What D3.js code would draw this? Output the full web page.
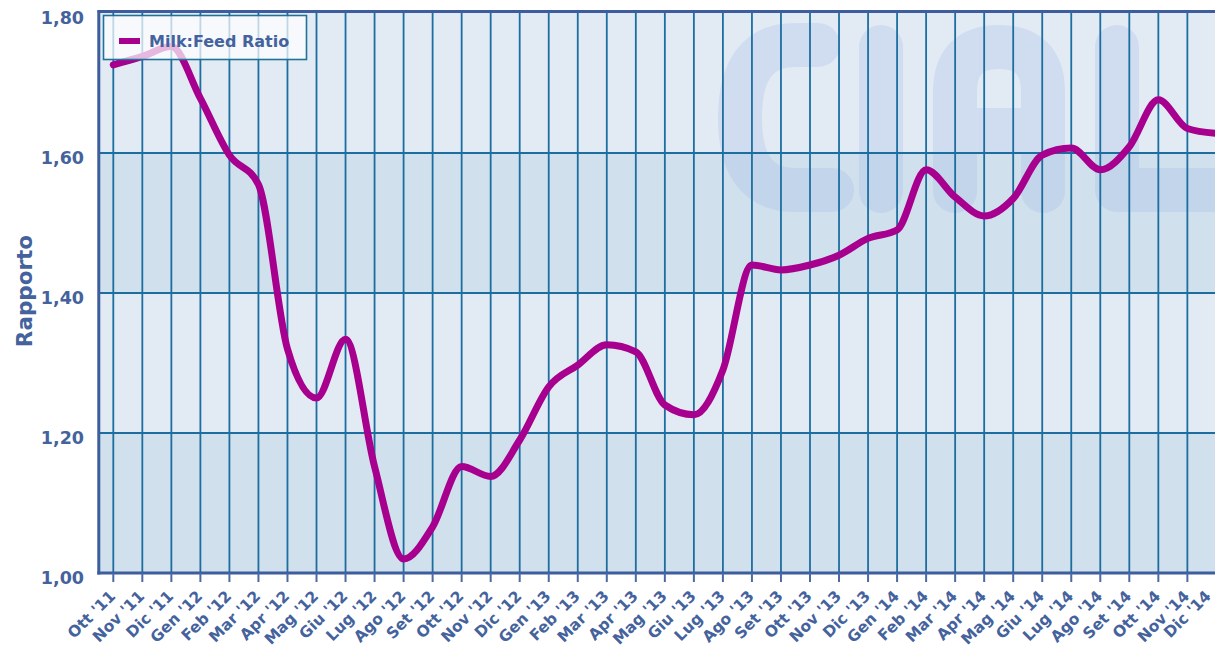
<!DOCTYPE html>
<html>
<head>
<meta charset="utf-8">
<script src="https://cdn.jsdelivr.net/npm/d3@7"></script>
<style>
  html, body { margin: 0; padding: 0; background: #ffffff; }
  svg { display: block; }
  text { font-family: "DejaVu Sans", Verdana, sans-serif; font-weight: bold; }
</style>
</head>
<body>
<svg id="chart" width="1215" height="650"></svg>
<script>
// ---- data ----
const months = ["Ott '11","Nov '11","Dic '11","Gen '12","Feb '12","Mar '12","Apr '12","Mag '12","Giu '12","Lug '12","Ago '12","Set '12",
                "Ott '12","Nov '12","Dic '12","Gen '13","Feb '13","Mar '13","Apr '13","Mag '13","Giu '13","Lug '13","Ago '13","Set '13",
                "Ott '13","Nov '13","Dic '13","Gen '14","Feb '14","Mar '14","Apr '14","Mag '14","Giu '14","Lug '14","Ago '14","Set '14",
                "Ott '14","Nov '14","Dic '14"];
const ratio = [1.726,1.738,1.752,1.678,1.597,1.555,1.320,1.250,1.334,1.152,1.020,1.066,
               1.152,1.138,1.190,1.266,1.297,1.326,1.316,1.240,1.226,1.290,1.440,1.433,
               1.440,1.454,1.478,1.490,1.576,1.537,1.510,1.535,1.597,1.607,1.576,1.609,
               1.676,1.635,1.628];
const yTicks = [1.00, 1.20, 1.40, 1.60, 1.80];
const seriesName = "Milk:Feed Ratio";
const yTitle = "Rapporto";

(function () {
// ---- layout ----
const svg = d3.select("#chart");
const x = d3.scalePoint().domain(months).range([113.3, 1216.4]);
const step = x.step();
const y = d3.scaleLinear().domain([1.0, 1.8]).range([573, 13]);
const pLeft = x(months[0]) - step / 2;
const pRight = x(months[months.length - 1]) + step / 2;
const pTop = y(1.8), pBottom = y(1.0);

const fmt = v => v.toFixed(2).replace(".", ",");
const textColor = "#44629c";
const lineColor = "#a8008e";

// clip
svg.append("defs").append("clipPath").attr("id", "plotClip")
  .append("rect").attr("x", pLeft).attr("y", pTop).attr("width", pRight - pLeft).attr("height", pBottom - pTop);

const plot = svg.append("g").attr("clip-path", "url(#plotClip)");

// alternating bands
const bands = d3.pairs(yTicks);
plot.selectAll("rect.band").data(bands).join("rect")
  .attr("class", "band")
  .attr("x", pLeft).attr("width", pRight - pLeft)
  .attr("y", d => y(d[1])).attr("height", d => y(d[0]) - y(d[1]))
  .attr("fill", (d, i) => i % 2 === 0 ? "#d0e0ec" : "#e2eaf4");

// watermark (CIAL logo)
const wm = plot.append("g")
  .attr("fill", "none")
  .attr("stroke", "rgb(140,170,228)")
  .attr("stroke-opacity", 0.2)
  .attr("stroke-width", 44)
  .attr("stroke-linecap", "round")
  .attr("stroke-linejoin", "round");
wm.append("path").attr("d", "M 818 45 L 795 45 Q 740 45 740 118 Q 740 190 795 190 L 832 190");
wm.append("path").attr("d", "M 881 47 L 881 191");
wm.append("path").attr("d", "M 955 191 L 955 92 Q 955 47 999 47 Q 1043 47 1043 92 L 1043 191 M 955 130 L 1043 130");
wm.append("path").attr("d", "M 1117 47 L 1117 190 L 1260 190");

// gridlines
const gridColor = "#1c6ea0";
plot.selectAll("line.vgrid").data(months).join("line")
  .attr("class", "vgrid")
  .attr("x1", d => x(d)).attr("x2", d => x(d))
  .attr("y1", pTop).attr("y2", pBottom)
  .attr("stroke", gridColor).attr("stroke-width", 1.8);
plot.selectAll("line.hgrid").data(yTicks.slice(1, -1)).join("line")
  .attr("class", "hgrid")
  .attr("x1", pLeft).attr("x2", pRight)
  .attr("y1", d => y(d)).attr("y2", d => y(d))
  .attr("stroke", gridColor).attr("stroke-width", 1.8);

// borders
const borderColor = "#3d5d9e";
svg.append("line").attr("x1", pLeft - 1).attr("x2", 1215).attr("y1", pTop - 1.5).attr("y2", pTop - 1.5)
  .attr("stroke", borderColor).attr("stroke-width", 3);
svg.append("line").attr("x1", pLeft).attr("x2", pLeft).attr("y1", pTop - 3).attr("y2", pBottom + 1.5)
  .attr("stroke", borderColor).attr("stroke-width", 3);
svg.append("line").attr("x1", pLeft - 1.5).attr("x2", 1215).attr("y1", pBottom).attr("y2", pBottom)
  .attr("stroke", borderColor).attr("stroke-width", 3);

// x ticks
svg.selectAll("line.xtick").data(months).join("line")
  .attr("class", "xtick")
  .attr("x1", d => x(d)).attr("x2", d => x(d))
  .attr("y1", pBottom).attr("y2", pBottom + 9)
  .attr("stroke", "#4b6aa3").attr("stroke-width", 2);

// series line
const line = d3.line()
  .x((d, i) => x(months[i]))
  .y(d => y(d))
  .curve(d3.curveMonotoneX);
svg.append("path").datum(ratio)
  .attr("d", line)
  .attr("fill", "none")
  .attr("stroke", lineColor)
  .attr("stroke-width", 7)
  .attr("stroke-linecap", "round")
  .attr("stroke-linejoin", "round");

// legend
const lg = svg.append("g");
lg.append("rect").attr("x", 103.5).attr("y", 15.5).attr("width", 203).attr("height", 44)
  .attr("fill", "#ffffff").attr("fill-opacity", 0.72)
  .attr("stroke", "#1f7399").attr("stroke-width", 1.6);
lg.append("line").attr("x1", 119).attr("x2", 140).attr("y1", 41).attr("y2", 41)
  .attr("stroke", lineColor).attr("stroke-width", 6);
lg.append("text").attr("x", 149).attr("y", 47)
  .attr("font-size", 16).attr("fill", textColor).text(seriesName);

// y labels
svg.selectAll("text.ylab").data(yTicks).join("text")
  .attr("class", "ylab")
  .attr("x", 84).attr("y", d => y(d) + 11)
  .attr("text-anchor", "end")
  .attr("font-size", 17.5)
  .attr("fill", textColor)
  .text(d => fmt(d));

// y title
svg.append("text")
  .attr("transform", "translate(32,291) rotate(-90)")
  .attr("text-anchor", "middle")
  .attr("font-size", 21.5)
  .attr("fill", textColor)
  .text(yTitle);

// x labels
svg.selectAll("text.xlab").data(months).join("text")
  .attr("class", "xlab")
  .attr("text-anchor", "end")
  .attr("font-size", 15.5)
  .attr("fill", textColor)
  .attr("transform", d => `translate(${Math.min(x(d) + 3, 1212)},${pBottom + 24}) rotate(-45)`)
  .text(d => d);
})();
</script>
</body>
</html>
